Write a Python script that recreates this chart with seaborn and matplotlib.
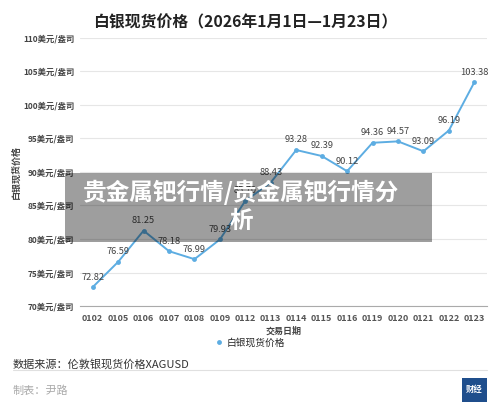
import matplotlib
matplotlib.use('Agg')
import matplotlib.pyplot as plt
from matplotlib.patches import Rectangle
import pandas as pd
import seaborn as sns

# 数据
dates = ['0102', '0105', '0106', '0107', '0108', '0109', '0112', '0113',
         '0114', '0115', '0116', '0119', '0120', '0121', '0122', '0123']
prices = [72.82, 76.59, 81.25, 78.18, 76.99, 79.93, 85.70, 88.43,
          93.28, 92.39, 90.12, 94.36, 94.57, 93.09, 96.19, 103.38]
y_ticks = [70, 75, 80, 85, 90, 95, 100, 105, 110]

sns.set_style('white')
plt.rcParams['font.family'] = ['Noto Sans CJK SC', 'DejaVu Sans']

line_color = '#5dade2'
df = pd.DataFrame({'date': dates, 'price': prices})
df['pos'] = range(len(df))

fig = plt.figure(figsize=(5, 4.16), dpi=100)
ax = fig.add_axes([0.16, 0.2644, 0.814, 0.6443])

sns.lineplot(data=df, x='pos', y='price', ax=ax, color=line_color, linewidth=1.4,
             marker='o', markersize=3.5, markeredgewidth=0, label='白银现货价格', legend=False)

for x, v in zip(df['pos'], df['price']):
    ax.annotate(f'{v:.2f}', (x, v), xytext=(0, 4), textcoords='offset points',
                ha='center', va='bottom', fontsize=6.7, color='#444444')

ax.set_xlim(-0.5, len(dates) - 0.5)
ax.set_ylim(70, 110)
ax.set_yticks(y_ticks)
ax.set_yticklabels([f'{t}美元/盎司' for t in y_ticks], fontsize=6, color='#444444', fontweight='bold')
ax.set_xticks(range(len(dates)))
ax.set_xticklabels(dates, fontsize=6.5, color='#555555', fontweight='bold')
ax.tick_params(axis='y', length=0, pad=4)
ax.tick_params(axis='x', length=3, color='#aaaaaa', pad=3)
ax.grid(axis='y', color='#e6e6e6', linewidth=0.8)
for s in ['top', 'right', 'left']:
    ax.spines[s].set_visible(False)
ax.spines['bottom'].set_color('#aaaaaa')
ax.spines['bottom'].set_linewidth(0.8)
ax.set_xlabel('交易日期', fontsize=6.5, color='#444444', fontweight='bold', labelpad=2)
ax.set_ylabel('白银现货价格', fontsize=6.5, color='#444444', fontweight='bold', labelpad=3)
ax.yaxis.set_label_coords(-0.145, 0.5)

# 标题
fig.text(0.49, 0.947, '白银现货价格（2026年1月1日—1月23日）', ha='center', va='center',
         fontsize=11.4, fontweight='bold', color='#222222')

# 图例
fig.legend(handles=ax.get_lines()[:1], labels=['白银现货价格'], loc='center',
           bbox_to_anchor=(0.5, 0.176), frameon=False, fontsize=7, handlelength=0.8,
           handletextpad=0.4, markerscale=1.0)
leg_line = fig.legends[0].get_lines()[0]
leg_line.set_linestyle('none')

# 底部说明
fig.text(0.026, 0.125, '数据来源：伦敦银现货价格XAGUSD', fontsize=8, color='#333333', va='center')
fig.add_artist(plt.Line2D([0.026, 0.974], [0.111, 0.111], color='#e0e0e0', linewidth=0.8))
fig.text(0.026, 0.06, '制表：尹路', fontsize=8, color='#aaaaaa', va='center')
fig.add_artist(Rectangle((0.924, 0.034), 0.05, 0.058, transform=fig.transFigure,
                         facecolor='#1f4e8c', edgecolor='none'))
fig.text(0.949, 0.063, '财经', fontsize=6, color='white', fontweight='bold', ha='center', va='center')

# 水印遮罩
fig.add_artist(Rectangle((0.13, 0.418), 0.734, 0.166, transform=fig.transFigure,
                         facecolor='black', alpha=0.38, edgecolor='none', zorder=10))
fig.text(0.482, 0.503, '贵金属钯行情/贵金属钯行情分\n析', ha='center', va='center',
         fontsize=17, fontweight='bold', color='white', linespacing=1.2, zorder=11,
         multialignment='center')

fig.savefig('out.png', dpi=100)
